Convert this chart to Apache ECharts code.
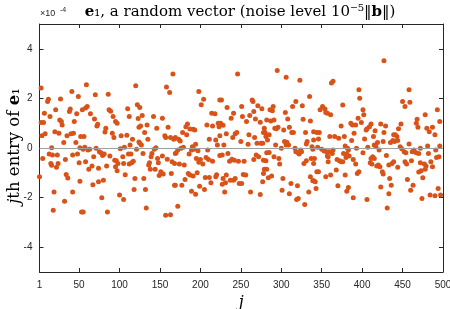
<!DOCTYPE html>
<html><head><meta charset="utf-8">
<script src="https://cdn.jsdelivr.net/npm/echarts@6/dist/echarts.min.js"></script>
<style>html,body{margin:0;padding:0;background:#fff}#c{width:450px;height:309px}</style>
</head><body><div id="c"></div>
<script>
const xTicks = [1, 50, 100, 150, 200, 250, 300, 350, 400, 450, 500];
const yTicks = [-4, -2, 0, 2, 4];
// [j, entry of e1 in units of 1e-4]
const entries = [
[3,2.42],[12,1.97],[11,1.88],[27,1.98],[41,2.28],[49,2.08],[7,1.40],[3,1.03],[6,1.03],[14,1.27],[21,1.54],[38,1.47],[39,1.57],[47,1.38],[54,1.54],[26,1.13],[28,1.07],[29,0.93],[44,1.07],[20,0.66],[25,0.59],[35,0.49],[40,0.57],[43,0.59],[52,0.46],[31,0.22],[46,0.22],[8,0.57],[4,0.49],[16,0.01],[51,0.01],[13,-0.24],[17,-0.28],[23,-0.28],[5,-0.42],[42,-0.28],[48,-0.24],[15,-0.62],[16,-0.70],[24,-0.62],[22,-0.78],[33,-0.46],[50,-0.59],[55,-0.05],[1,-1.16],[34,-1.07],[36,-1.21],[51,-1.34],[19,-1.77],[42,-1.77],[32,-2.15],[18,-2.51],[53,-2.58],
[59,2.55],[70,2.15],[86,2.17],[58,1.61],[60,1.67],[64,1.38],[69,1.17],[87,1.54],[89,1.48],[92,1.27],[95,1.07],[97,1.00],[110,1.58],[112,1.27],[73,0.96],[72,0.89],[83,0.80],[91,0.59],[93,0.42],[82,0.65],[102,0.49],[109,0.51],[56,0.46],[57,0.03],[61,-0.08],[63,-0.05],[71,-0.01],[75,-0.15],[77,-0.19],[79,-0.30],[81,-0.24],[88,-0.32],[101,-0.03],[106,0.03],[68,-0.35],[58,-0.55],[66,-0.73],[62,-0.86],[74,-0.82],[84,-0.73],[94,-0.49],[96,-0.51],[98,-0.62],[95,-0.76],[97,-0.92],[107,-1.08],[104,-0.35],[105,-0.62],[111,-0.24],[74,-1.36],[80,-1.30],[67,-1.48],[78,-2.01],[100,-1.90],[105,-2.08],[55,-2.58],[85,-2.58],
[166,2.98],[120,2.51],[158,2.46],[162,2.24],[122,1.74],[125,1.63],[128,1.31],[142,1.27],[153,1.20],[123,1.19],[126,0.89],[124,0.84],[134,0.93],[131,0.62],[146,0.80],[160,0.84],[156,0.49],[157,0.42],[163,0.42],[167,0.35],[135,0.35],[116,0.35],[124,0.24],[127,0.12],[125,0.19],[113,0.12],[143,-0.05],[145,0.01],[140,-0.22],[121,-0.05],[114,-0.24],[129,-0.22],[139,-0.35],[137,-0.59],[136,-0.69],[147,-0.42],[148,-0.59],[153,-0.32],[159,-0.45],[165,-0.55],[169,-0.22],[117,-0.53],[115,-0.59],[112,-0.65],[138,-0.86],[144,-0.86],[151,-0.96],[152,-1.03],[149,-1.11],[154,-1.05],[164,-1.03],[119,-1.23],[130,-1.23],[168,-1.50],[118,-1.67],[132,-1.67],[133,-2.42],[157,-2.71],[163,-2.69],
[198,2.28],[204,1.97],[201,1.74],[224,1.94],[214,1.40],[218,1.38],[208,0.93],[215,0.89],[222,1.00],[223,0.86],[184,0.97],[182,0.86],[187,0.77],[191,0.76],[193,0.73],[178,0.62],[183,0.53],[211,0.35],[219,0.32],[169,0.42],[173,0.35],[175,0.28],[224,0.49],[176,-0.01],[179,0.03],[172,-0.08],[170,-0.19],[190,0.05],[192,-0.05],[189,-0.08],[194,0.15],[209,-0.08],[197,-0.11],[221,0.12],[186,-0.24],[195,-0.42],[200,-0.46],[198,-0.57],[207,-0.38],[210,-0.46],[215,-0.53],[203,-0.65],[224,-0.30],[168,-0.62],[174,-0.65],[180,-0.69],[185,-1.03],[187,-1.09],[191,-1.13],[196,-1.00],[181,-1.27],[206,-1.19],[211,-1.19],[219,-1.16],[220,-1.08],[213,-1.40],[169,-1.50],[177,-1.50],[199,-1.54],[205,-1.67],[227,-1.46],[189,-1.74],[194,-1.86],[172,-2.35],
[246,2.98],[264,1.94],[265,1.88],[226,1.94],[233,1.63],[251,1.67],[271,1.70],[276,1.58],[241,1.40],[238,1.20],[252,1.27],[261,1.31],[266,1.47],[257,1.07],[268,1.17],[274,1.04],[228,0.92],[225,1.00],[279,0.80],[280,0.63],[245,0.62],[243,0.57],[240,0.42],[232,0.57],[260,0.53],[267,0.42],[278,0.63],[229,0.12],[250,0.26],[259,0.15],[270,0.19],[275,0.19],[277,0.19],[281,0.46],[283,0.32],[227,-0.28],[234,-0.22],[239,-0.45],[242,-0.49],[247,-0.53],[254,-0.53],[236,-0.53],[266,-0.46],[269,-0.28],[272,-0.35],[278,-0.49],[282,-0.19],[232,-1.09],[228,-1.23],[231,-1.40],[241,-1.30],[243,-1.23],[237,-1.30],[253,-1.07],[256,-1.09],[248,-1.43],[251,-1.43],[278,-1.03],[279,-0.86],[277,-1.36],[230,-1.77],[262,-1.77],[274,-1.88],
[295,3.12],[306,2.85],[323,2.73],[335,2.08],[318,1.88],[314,1.67],[326,1.70],[290,1.67],[286,1.54],[289,1.50],[305,1.43],[308,1.17],[327,1.16],[336,1.09],[287,1.09],[291,1.13],[294,0.78],[296,0.84],[292,0.80],[282,1.13],[303,0.73],[310,0.84],[313,0.62],[315,0.62],[330,0.62],[285,0.53],[304,0.26],[307,0.23],[309,0.12],[306,0.12],[293,0.12],[300,-0.01],[317,-0.01],[318,-0.15],[321,-0.19],[322,-0.24],[324,-0.08],[325,-0.15],[332,0.26],[331,0.16],[338,0.05],[340,0.32],[285,-0.18],[291,-0.35],[297,-0.42],[298,-0.65],[281,-0.51],[328,-0.62],[331,-0.51],[337,-0.42],[282,-0.86],[288,-1.13],[284,-1.20],[302,-1.23],[336,-1.16],[339,-1.32],[312,-1.43],[320,-1.52],[301,-1.70],[310,-1.84],[334,-1.77],[321,-2.04],[319,-2.08],[329,-2.28],
[364,2.69],[362,2.62],[396,2.35],[397,2.01],[351,1.67],[354,1.57],[348,1.54],[355,1.43],[357,1.40],[361,1.34],[376,1.73],[395,1.20],[386,1.00],[388,0.93],[392,0.93],[374,0.89],[340,0.66],[344,0.62],[347,0.62],[346,0.36],[360,0.46],[366,0.46],[371,0.39],[378,0.46],[390,0.59],[387,0.30],[339,-0.05],[345,0.03],[350,-0.05],[353,-0.12],[356,-0.15],[359,-0.15],[364,-0.08],[363,-0.22],[358,-0.35],[357,-0.32],[379,0.08],[382,-0.01],[383,-0.08],[377,-0.22],[393,-0.01],[381,-0.24],[369,-0.46],[372,-0.51],[374,-0.55],[376,-0.55],[358,-0.55],[380,-0.38],[384,-0.32],[389,-0.46],[392,-0.65],[396,-0.96],[394,-1.03],[341,-0.42],[340,-0.62],[344,-0.96],[346,-0.96],[368,-0.89],[340,-1.32],[342,-1.36],[355,-1.16],[361,-1.09],[379,-1.09],[343,-1.63],[370,-1.52],[381,-1.74],[383,-1.59],[389,-2.01],
[427,3.52],[450,1.88],[453,1.67],[401,1.54],[402,1.34],[399,1.03],[411,0.97],[409,0.86],[406,0.78],[423,0.97],[429,0.89],[448,0.97],[445,0.78],[405,0.73],[416,0.70],[414,0.46],[403,0.36],[427,0.62],[426,0.26],[419,0.22],[415,0.12],[417,0.05],[439,0.53],[441,0.53],[443,0.46],[438,0.30],[435,0.22],[440,0.26],[444,0.30],[447,0.05],[449,-0.03],[407,0.03],[401,-0.19],[421,-0.08],[413,-0.35],[411,-0.42],[415,-0.42],[410,-0.59],[412,-0.65],[430,-0.30],[439,-0.55],[437,-0.62],[433,-0.69],[444,-0.78],[418,-0.73],[420,-0.69],[422,-0.76],[425,-0.96],[426,-1.05],[434,-1.23],[436,-1.50],[433,-1.84],[423,-1.57],[406,-2.08],[431,-2.42],
[458,2.35],[459,1.84],[493,1.54],[496,1.07],[478,1.34],[468,1.16],[467,1.00],[469,0.84],[480,0.80],[483,0.66],[487,0.84],[490,0.53],[458,0.16],[452,-0.15],[454,-0.19],[462,-0.15],[464,-0.08],[467,-0.19],[470,-0.22],[472,-0.01],[481,0.08],[482,-0.22],[491,-0.08],[496,0.08],[461,-0.51],[453,-0.55],[455,-0.65],[472,-0.59],[477,-0.65],[479,-0.73],[478,-0.86],[470,-0.97],[473,-0.92],[485,-0.55],[487,-0.76],[492,-0.38],[495,-0.35],[456,-1.27],[463,-1.50],[460,-1.70],[475,-1.20],[494,-1.63],[474,-2.04],[484,-1.90],[490,-1.93],[497,-1.90]
];

const axisColor = '#262626';
const sans = 'Liberation Sans, Arial, sans-serif';
const serif = 'DejaVu Serif, serif';
const chart = echarts.init(document.getElementById('c'), null, {renderer: 'canvas'});

function xAx(pos, labels) {
  return {
    type: 'value', min: 1, max: 500, position: pos,
    axisLine: {show: true, onZero: false, lineStyle: {color: axisColor, width: 1}},
    axisTick: {show: true, inside: true, length: 4, customValues: xTicks, lineStyle: {color: axisColor, width: 1}},
    axisLabel: {show: labels, customValues: xTicks, color: axisColor, fontSize: 10, fontFamily: sans, margin: 8},
    splitLine: {show: false},
    name: labels ? 'j' : '', nameLocation: 'middle', nameGap: 20,
    nameTextStyle: {fontFamily: serif, fontStyle: 'italic', fontSize: 16, color: '#000'}
  };
}
function yAx(pos, labels) {
  return {
    type: 'value', min: -5, max: 5, position: pos,
    axisLine: {show: true, onZero: false, lineStyle: {color: axisColor, width: 1}},
    axisTick: {show: true, inside: true, length: 4, customValues: yTicks, lineStyle: {color: axisColor, width: 1}},
    axisLabel: {show: labels, customValues: yTicks, color: axisColor, fontSize: 10, fontFamily: sans, margin: 7},
    splitLine: {show: false}
  };
}

chart.setOption({
  animation: false,
  grid: {left: 39.5, right: 7, top: 24, bottom: 37, outerBoundsMode: 'none', containLabel: false},
  xAxis: [xAx('bottom', true), xAx('top', false)],
  yAxis: [yAx('left', true), yAx('right', false)],
  series: [{
    type: 'scatter', data: entries, symbolSize: 5,
    itemStyle: {color: '#D95319', opacity: 1},
    markLine: {silent: true, symbol: 'none', label: {show: false},
      lineStyle: {color: '#a0a0a0', width: 1, type: 'solid'}, data: [{yAxis: 0}]}
  }],
  graphic: [
    {type: 'text', x: 240, y: 12, silent: true,
     style: {text: '{b|e}\u2081, a random vector (noise level 10\u207B\u2075\u2016{b|b}\u2016)',
       fontFamily: serif, fontSize: 15, fill: '#000', align: 'center', verticalAlign: 'middle',
       textAlign: 'center', textVerticalAlign: 'middle',
       rich: {b: {fontFamily: serif, fontWeight: 'bold', fontSize: 15, fill: '#000'}}}},
    {type: 'text', x: 15, y: 146, rotation: Math.PI / 2, silent: true,
     style: {text: '{i|j}th entry of {b|e}\u2081',
       fontFamily: serif, fontSize: 16.5, fill: '#000', align: 'center', verticalAlign: 'middle',
       textAlign: 'center', textVerticalAlign: 'middle',
       rich: {i: {fontFamily: serif, fontStyle: 'italic', fontSize: 16.5, fill: '#000'},
              b: {fontFamily: serif, fontWeight: 'bold', fontSize: 16.5, fill: '#000'}}}},
    {type: 'text', x: 40, y: 18, silent: true,
     style: {text: '\u00D710', fontFamily: sans, fontSize: 9, fill: axisColor, textVerticalAlign: 'bottom', verticalAlign: 'bottom'}},
    {type: 'text', x: 60, y: 14, silent: true,
     style: {text: '-4', fontFamily: sans, fontSize: 7, fill: axisColor, textVerticalAlign: 'bottom', verticalAlign: 'bottom'}}
  ]
});
</script></body></html>
